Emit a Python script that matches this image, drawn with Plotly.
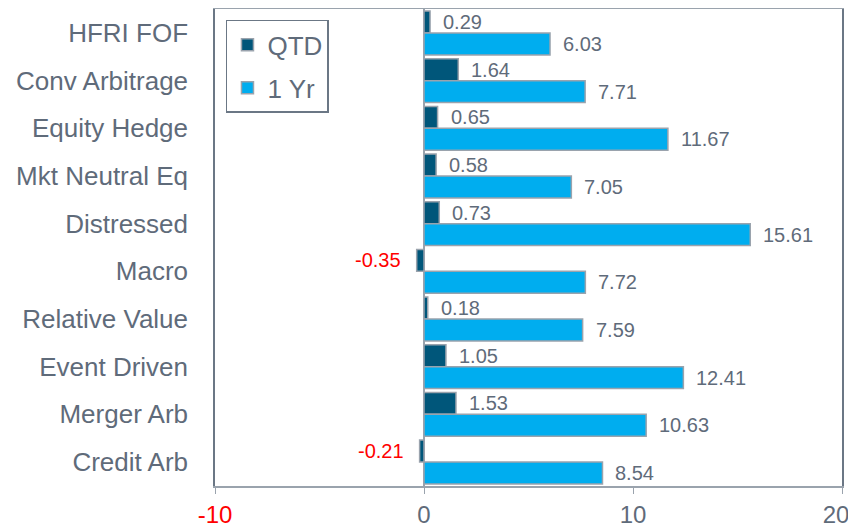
import plotly.graph_objects as go

categories = ["HFRI FOF", "Conv Arbitrage", "Equity Hedge", "Mkt Neutral Eq", "Distressed",
              "Macro", "Relative Value", "Event Driven", "Merger Arb", "Credit Arb"]
qtd = [0.29, 1.64, 0.65, 0.58, 0.73, -0.35, 0.18, 1.05, 1.53, -0.21]
one_yr = [6.03, 7.71, 11.67, 7.05, 15.61, 7.72, 7.59, 12.41, 10.63, 8.54]
x_ticks = [-10, 0, 10, 20]
x_tick_labels = ['<span style="color:red">-10</span>', "0", "10", "20\u2002"]

GRAY = "#5f6b7a"
fig = go.Figure()
fig.add_trace(go.Bar(y=categories, x=qtd, orientation="h", name="QTD", legendgroup="a",
                     marker=dict(color="#00567a", line=dict(color="#9aa3ad", width=1.5))))
fig.add_trace(go.Bar(y=categories, x=one_yr, orientation="h", name="1 Yr", legendgroup="b",
                     marker=dict(color="#00adef", line=dict(color="#9aa3ad", width=1.5))))

annotations = []
for c, v in zip(categories, qtd):
    neg = v < 0
    annotations.append(dict(x=v, y=c, xref="x", yref="y", text=f"{v:.2f}", showarrow=False,
                            xanchor="right" if neg else "left", xshift=-14 if neg else 11,
                            yshift=11, font=dict(size=20, color="red" if neg else GRAY)))
for c, v in zip(categories, one_yr):
    annotations.append(dict(x=v, y=c, xref="x", yref="y", text=f"{v:.2f}", showarrow=False,
                            xanchor="left", xshift=11, yshift=-11,
                            font=dict(size=20, color=GRAY)))

fig.update_layout(
    width=848, height=520,
    margin=dict(l=207, r=14, t=1, b=42),
    barmode="group", bargap=0.08, bargroupgap=0.0,
    plot_bgcolor="white", paper_bgcolor="white",
    font=dict(family="Liberation Sans, Arial, sans-serif", size=26, color=GRAY),
    showlegend=True,
    legend=dict(x=0.0175, y=0.977, xanchor="left", yanchor="top",
                bordercolor="#6b7785", borderwidth=1.5, bgcolor="white",
                traceorder="grouped", tracegroupgap=6,
                font=dict(size=26, color=GRAY), itemwidth=30),
    annotations=annotations,
)
fig.update_xaxes(range=[-10, 20], tickvals=x_ticks, ticktext=x_tick_labels, automargin=False,
                 showgrid=False, zeroline=True, zerolinecolor="#9aa3ad", zerolinewidth=1.5,
                 showline=True, linecolor="#9aa3ad", linewidth=1.5, mirror=True,
                 ticks="outside", ticklen=6, tickcolor="#9aa3ad", ticklabeloverflow="allow",
                 tickfont=dict(size=24, color=GRAY))
fig.update_yaxes(autorange="reversed", showgrid=False, showline=True, automargin=False,
                 linecolor="#6b7785", linewidth=1.5, mirror=True,
                 ticks="", ticklabelstandoff=20, tickfont=dict(size=26, color=GRAY))

fig.write_html("out.html")
